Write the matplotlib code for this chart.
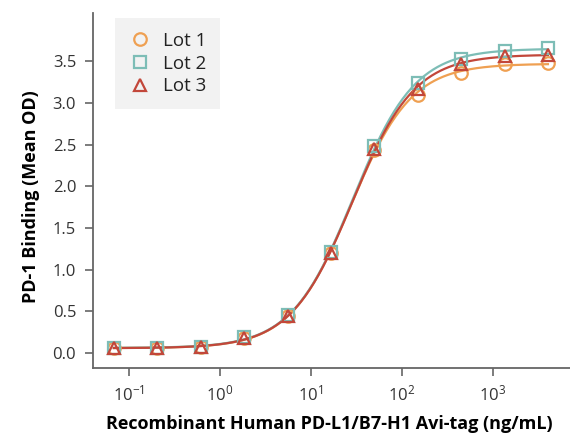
import numpy as np
import matplotlib.pyplot as plt

plt.rcParams['font.family'] = ['Open Sans', 'DejaVu Sans']
plt.rcParams['mathtext.fontset'] = 'custom'
plt.rcParams['mathtext.rm'] = 'Open Sans'
plt.rcParams['mathtext.it'] = 'Open Sans'
plt.rcParams['mathtext.bf'] = 'Open Sans:bold'

# 3-fold dilution series (ng/mL)
conc = [0.0686, 0.206, 0.617, 1.85, 5.56, 16.7, 50.0, 150.0, 450.0, 1350.0, 4050.0]

lot1 = [0.06, 0.06, 0.07, 0.18, 0.45, 1.20, 2.44, 3.10, 3.36, 3.47, 3.48]
lot2 = [0.06, 0.06, 0.07, 0.19, 0.46, 1.21, 2.48, 3.24, 3.53, 3.63, 3.66]
lot3 = [0.06, 0.06, 0.07, 0.18, 0.45, 1.20, 2.45, 3.17, 3.47, 3.57, 3.58]

labels = ["Lot 1", "Lot 2", "Lot 3"]
colors = ["#EFA052", "#7DBDB6", "#C2473A"]
markers = ["o", "s", "^"]


def four_pl(x, p):
    bottom, top, logec50, hill = p
    return bottom + (top - bottom) / (1 + 10 ** ((logec50 - np.log10(x)) * hill))


def fit_4pl(x, y, iters=200):
    x = np.asarray(x)
    y = np.asarray(y)
    p = np.array([y.min(), y.max(), np.median(np.log10(x)), 1.0])
    for _ in range(iters):
        r = y - four_pl(x, p)
        J = np.zeros((len(x), 4))
        for k in range(4):
            dp = np.zeros(4)
            dp[k] = 1e-6
            J[:, k] = (four_pl(x, p + dp) - four_pl(x, p - dp)) / 2e-6
        step = np.linalg.lstsq(J, r, rcond=None)[0]
        p = p + 0.5 * step
    return p


fig = plt.figure(figsize=(5.7, 4.34), dpi=100)
ax = fig.add_axes([0.163, 0.152, 0.837, 0.818])

xs = np.logspace(np.log10(conc[0]), np.log10(conc[-1]), 300)

for i, (vals, lab) in enumerate(zip([lot1, lot2, lot3], labels)):
    p = fit_4pl(conc, vals)
    ax.plot(xs, four_pl(xs, p), color=colors[i], lw=1.6, zorder=2)
    ax.plot(
        conc,
        vals,
        linestyle="none",
        marker=markers[i],
        markersize=9,
        markerfacecolor="none",
        markeredgecolor=colors[i],
        markeredgewidth=1.6,
        label=lab,
        zorder=3 + i
    )

ax.set_xscale("log")
ax.set_xlim(10 ** -1.394, 10 ** 3.85)
ax.set_ylim(-0.18, 4.08)
ax.set_xticks([0.1, 1, 10, 100, 1000])
ax.minorticks_off()
ax.set_yticks(np.arange(0, 3.51, 0.5))
ax.set_yticklabels([f"{v:.1f}" for v in np.arange(0, 3.51, 0.5)])

for side in ["top", "right"]:
    ax.spines[side].set_visible(False)
for side in ["left", "bottom"]:
    ax.spines[side].set_color("#666666")
    ax.spines[side].set_linewidth(1.3)

ax.tick_params(axis="both", direction="out", length=6, width=1.2,
               color="#666666", labelsize=12, labelcolor="#333333", pad=6)

ax.set_xlabel("Recombinant Human PD-L1/B7-H1 Avi-tag (ng/mL)",
              fontsize=13, fontweight="bold", va="baseline")
ax.xaxis.set_label_coords(0.495, -0.172)
ax.set_ylabel("PD-1 Binding (Mean OD)", fontsize=13, fontweight="bold")
ax.yaxis.set_label_coords(-0.11, 0.483)

leg = ax.legend(loc="upper left", bbox_to_anchor=(0.046, 0.986), fontsize=13.5,
                frameon=True, fancybox=False, facecolor="#f2f2f2",
                edgecolor="none", framealpha=1, handletextpad=0.6,
                borderpad=0.75, labelspacing=0.25, handlelength=1.2,
                borderaxespad=0)
for t in leg.get_texts():
    t.set_color("#222222")

fig.savefig("out.png", dpi=100)
